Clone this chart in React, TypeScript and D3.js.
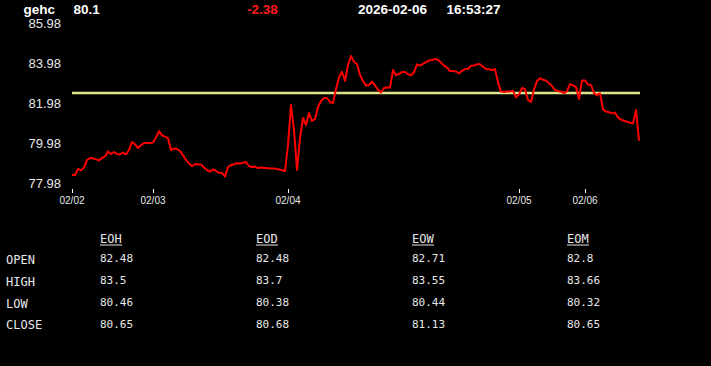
import React from "react";
import * as d3 from "d3";

const symbol = "gehc";
const lastPrice = "80.1";
const change = "-2.38";
const dateStr = "2026-02-06";
const timeStr = "16:53:27";

const prices: number[] = [
  78.38, 78.38, 78.68, 78.61, 78.76, 79.13, 79.23, 79.21, 79.16, 79.11,
  79.23, 79.31, 79.56, 79.43, 79.53, 79.43, 79.41, 79.5, 79.41, 79.63,
  80.03, 79.91, 79.73, 79.87, 79.98, 79.98, 79.97, 80.01, 80.26, 80.57,
  80.36, 80.3, 80.22, 79.63, 79.7, 79.68, 79.58, 79.36, 79.14, 78.96,
  78.82, 78.93, 78.91, 78.91, 78.76, 78.63, 78.55, 78.66, 78.58, 78.49,
  78.49, 78.3, 78.78, 78.87, 78.92, 78.97, 78.96, 78.99, 79.03, 78.83,
  78.77, 78.8, 78.72, 78.76, 78.73, 78.73, 78.71, 78.7, 78.69, 78.66,
  78.62, 78.58, 79.88, 81.88, 80.63, 78.63, 80.23, 81.23, 80.88, 81.48,
  81.08, 81.18, 81.78, 82.08, 82.23, 82.23, 82.03, 81.98, 82.68, 83.26,
  83.54, 83.08, 83.88, 84.33, 84.03, 83.93, 83.38, 83.08, 82.85, 82.88,
  83.05, 82.86, 82.63, 82.51, 82.73, 82.76, 82.75, 83.63, 83.37, 83.43,
  83.53, 83.53, 83.42, 83.37, 83.51, 83.91, 83.85, 83.94, 84.02, 84.11,
  84.13, 84.18, 84.14, 84.0, 83.85, 83.75, 83.58, 83.58, 83.56, 83.46,
  83.59, 83.68, 83.68, 83.84, 83.86, 83.92, 83.92, 83.79, 83.68, 83.67,
  83.63, 83.68, 83.01, 82.55, 82.53, 82.55, 82.55, 82.59, 82.26, 82.41,
  82.73, 82.67, 82.13, 82.03, 82.66, 83.08, 83.22, 83.14, 83.1, 82.97,
  82.83, 82.63, 82.58, 82.54, 82.48, 82.56, 82.92, 82.86, 82.78, 82.18,
  83.11, 83.1, 82.91, 82.88, 82.47, 82.37, 82.47, 81.66, 81.55, 81.52,
  81.46, 81.5, 81.26, 81.15, 81.09, 81.04, 80.99, 80.96, 81.63, 80.1,
];

const refPrice = 82.48;

const yTicks = [77.98, 79.98, 81.98, 83.98, 85.98];
const xTickIndex = [0, 27, 72, 149, 171];
const xTickLabels = ["02/02", "02/03", "02/04", "02/05", "02/06"];

const colHeaders = ["EOH", "EOD", "EOW", "EOM"];
const rowLabels = ["OPEN", "HIGH", "LOW", "CLOSE"];
const openRow = ["82.48", "82.48", "82.71", "82.8"];
const highRow = ["83.5", "83.7", "83.55", "83.66"];
const lowRow = ["80.46", "80.38", "80.44", "80.32"];
const closeRow = ["80.65", "80.68", "81.13", "80.65"];
const tableRows = [openRow, highRow, lowRow, closeRow];

export default function App() {
  const W = 711;
  const H = 366;
  const x = d3.scaleLinear().domain([0, prices.length - 1]).range([72, 639]);
  const y = d3.scaleLinear().domain([77.98, 85.98]).range([183, 23]);
  const line = d3
    .line<number>()
    .x((_, i) => x(i))
    .y((d) => y(d));

  const colX = [100, 256, 412, 567];
  const labelBase = [264, 286, 307.5, 329];
  const valueBase = [262, 284, 306, 328];

  return (
    <div style={{ position: "fixed", left: 0, top: 0, width: W, height: H, background: "#000" }}>
      <svg width={W} height={H} style={{ display: "block" }}>
        <rect width={W} height={H} fill="#000" />
        <g fontFamily="'Liberation Sans', Arial, sans-serif" fontWeight="bold" fontSize={13.5}>
          <text x={23.5} y={13.5} fill="#fff">{symbol}</text>
          <text x={73.5} y={13.5} fill="#fff">{lastPrice}</text>
          <text x={247} y={13.5} fill="#ff1a1a">{change}</text>
          <text x={358} y={13.5} fill="#fff">{dateStr}</text>
          <text x={446.5} y={13.5} fill="#fff">{timeStr}</text>
        </g>
        <g fontFamily="'Liberation Sans', Arial, sans-serif" fontSize={13} fill="#e8e8e8" textAnchor="end">
          {yTicks.map((t) => (
            <text key={t} x={61} y={y(t)} dy="0.36em">{t.toFixed(2)}</text>
          ))}
        </g>
        <line x1={72} x2={640} y1={y(refPrice)} y2={y(refPrice)} stroke="#dfe58e" strokeWidth={2.5} />
        <path d={line(prices) || ""} fill="none" stroke="#ff0000" strokeWidth={2} strokeLinejoin="round" />
        <g fontFamily="'Liberation Sans', Arial, sans-serif" fontSize={10} fill="#e8e8e8" textAnchor="middle">
          {xTickIndex.map((ti, k) => (
            <g key={ti}>
              <line x1={Math.round(x(ti)) + 0.5} x2={Math.round(x(ti)) + 0.5} y1={189} y2={193} stroke="#fff" strokeWidth={1} />
              <text x={x(ti)} y={204}>{xTickLabels[k]}</text>
            </g>
          ))}
        </g>
        <g fontFamily="'DejaVu Sans Mono', monospace" fill="#e8e8e8">
          {colHeaders.map((h, c) => (
            <g key={h}>
              <text x={colX[c]} y={243} fontSize={12}>{h}</text>
              <line x1={colX[c]} x2={colX[c] + 22} y1={245} y2={245} stroke="#e8e8e8" strokeWidth={1} />
            </g>
          ))}
          {rowLabels.map((r, ri) => (
            <text key={r} x={6} y={labelBase[ri]} fontSize={12}>{r}</text>
          ))}
          {tableRows.map((row, ri) =>
            row.map((v, c) => (
              <text key={ri + "-" + c} x={colX[c]} y={valueBase[ri]} fontSize={11}>{v}</text>
            ))
          )}
        </g>
      </svg>
    </div>
  );
}
